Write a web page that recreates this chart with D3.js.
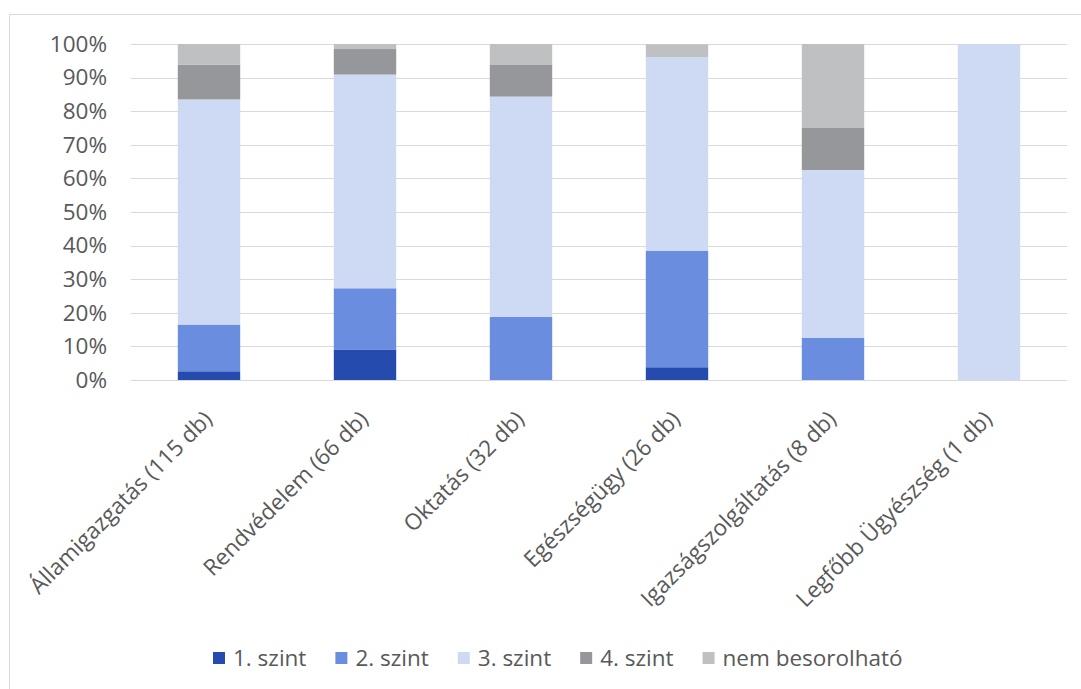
<!DOCTYPE html>
<html><head><meta charset="utf-8">
<script src="https://cdn.jsdelivr.net/npm/d3@7"></script>
<style>
body{margin:0;background:#fff;}
text{font-family:"Open Sans","Noto Sans",sans-serif;}
</style></head>
<body><svg id="c" width="1081" height="689"></svg>
<script>
const categories = ["Államigazgatás (115 db)","Rendvédelem (66 db)","Oktatás (32 db)","Egészségügy (26 db)","Igazságszolgáltatás (8 db)","Legfőbb Ügyészség (1 db)"];
const seriesNames = ["1. szint","2. szint","3. szint","4. szint","nem besorolható"];
const szint1 = [2.6, 9.1, 0, 3.8, 0, 0];
const szint2 = [13.9, 18.2, 18.75, 34.6, 12.5, 0];
const szint3 = [67.0, 63.6, 65.6, 57.7, 50, 100];
const szint4 = [10.4, 7.6, 9.4, 0, 12.5, 0];
const nemBesorolhato = [6.1, 1.5, 6.25, 3.8, 25, 0];
const yTicks = [0,10,20,30,40,50,60,70,80,90,100];
const colors = ["#264BAE","#6B8DE0","#CED9F3","#96979A","#BFC0C2"];

const seriesData = [szint1, szint2, szint3, szint4, nemBesorolhato];
const rows = categories.map((c,i)=>{const r={cat:c}; seriesNames.forEach((s,j)=>r[s]=seriesData[j][i]); return r;});
const stack = d3.stack().keys(seriesNames)(rows);

const FS = "22.5px";
const svg = d3.select("#c");
svg.append("rect").attr("x",9.5).attr("y",14.5).attr("width",1200).attr("height",800)
  .attr("fill","none").attr("stroke","#d9d9d9").attr("stroke-width",1);

const L=131, R=1067, T=44, B=380;
const x = d3.scaleBand().domain(categories).range([L,R]).paddingInner(0.6).paddingOuter(0.3);
const y = d3.scaleLinear().domain([0,100]).range([B,T]);

const grid = svg.append("g");
grid.selectAll("line").data(yTicks).join("line")
  .attr("x1",L).attr("x2",R).attr("y1",d=>Math.round(y(d))+0.5).attr("y2",d=>Math.round(y(d))+0.5)
  .attr("stroke","#d9d9d9").attr("stroke-width",1);

const yAxis = svg.append("g").attr("transform",`translate(${L},0)`)
  .call(d3.axisLeft(y).tickValues(yTicks).tickFormat(d=>d+"%").tickSize(0).tickPadding(24));
yAxis.select(".domain").remove();
yAxis.selectAll("text").attr("fill","#595959").style("font-size",FS);

svg.append("g").selectAll("g").data(stack).join("g").attr("fill",(d,i)=>colors[i])
  .selectAll("rect").data(d=>d).join("rect")
  .attr("x",d=>x(d.data.cat)).attr("width",x.bandwidth())
  .attr("y",d=>y(d[1])).attr("height",d=>Math.max(0,y(d[0])-y(d[1])));

svg.append("line").attr("x1",L).attr("x2",R).attr("y1",B+0.5).attr("y2",B+0.5).attr("stroke","#d9d9d9");

const xAxis = svg.append("g").attr("transform",`translate(0,${B})`)
  .call(d3.axisBottom(x).tickSize(0).tickPadding(0));
xAxis.select(".domain").remove();
xAxis.selectAll("text").attr("fill","#595959").style("font-size",FS)
  .attr("text-anchor","end").attr("y",0).attr("dy","0.35em")
  .attr("transform",`translate(-1,35) rotate(-45)`);

const leg = svg.append("g");
let cx = 0;
seriesNames.forEach((s,i)=>{
  const g = leg.append("g");
  g.append("rect").attr("x",0).attr("y",-6).attr("width",12).attr("height",12).attr("fill",colors[i]);
  const t = g.append("text").attr("x",20).attr("y",0).attr("dy","0.35em").attr("fill","#595959").style("font-size",FS).text(s);
  const w = 20 + t.node().getComputedTextLength();
  g.attr("transform",`translate(${cx},658)`);
  cx += w + 29;
});
leg.attr("transform",`translate(213,0)`);
</script></body></html>
